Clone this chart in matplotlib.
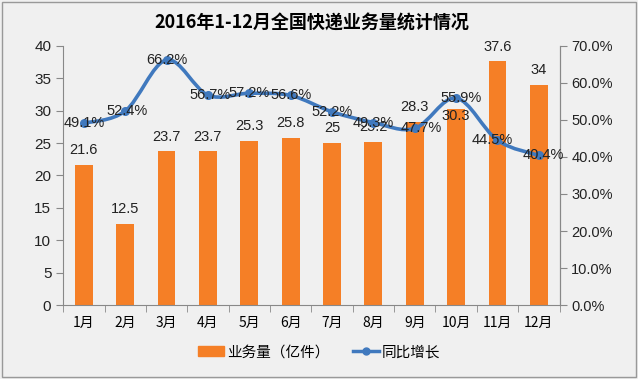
import matplotlib.pyplot as plt
import numpy as np
from matplotlib.path import Path
from matplotlib.patches import PathPatch, Patch
from matplotlib.lines import Line2D

plt.rcParams['font.family'] = ['Liberation Sans', 'Noto Sans CJK SC', 'DejaVu Sans']

months = ['1月', '2月', '3月', '4月', '5月', '6月', '7月', '8月', '9月', '10月', '11月', '12月']
volume = [21.6, 12.5, 23.7, 23.7, 25.3, 25.8, 25, 25.2, 28.3, 30.3, 37.6, 34]
growth = [49.1, 52.4, 66.2, 56.7, 57.2, 56.6, 52.2, 49.3, 47.7, 55.9, 44.5, 40.4]

bar_color = '#F57F26'
line_color = '#4079BE'
bg = '#F0F0F0'

fig = plt.figure(figsize=(6.38, 3.79), dpi=100, facecolor=bg)
ax = fig.add_axes([0.099, 0.195, 0.778, 0.684])
ax.set_facecolor(bg)
ax2 = ax.twinx()

x = np.arange(len(months))
ax.bar(x, volume, width=0.43, color=bar_color, zorder=2)
for i, v in enumerate(volume):
    if i == 9:
        # this label sits on the bar top in the original
        ax.text(i, v - 1.1, f'{v:g}', ha='center', va='center', fontsize=10.5, color='#222222', zorder=6)
    else:
        ax.text(i, v + 1.2, f'{v:g}', ha='center', va='bottom', fontsize=10.5, color='#222222')

# smooth line like excel (catmull-rom as bezier segments)
gx = x.astype(float)
gy = np.array(growth)
verts = [(gx[0], gy[0])]
codes = [Path.MOVETO]
for i in range(len(gx) - 1):
    p0 = (gx[max(i - 1, 0)], gy[max(i - 1, 0)])
    p1 = (gx[i], gy[i])
    p2 = (gx[i + 1], gy[i + 1])
    p3 = (gx[min(i + 2, len(gx) - 1)], gy[min(i + 2, len(gx) - 1)])
    t = 1 / 6
    c1 = (p1[0] + (p2[0] - p0[0]) * t, p1[1] + (p2[1] - p0[1]) * t)
    c2 = (p2[0] - (p3[0] - p1[0]) * t, p2[1] - (p3[1] - p1[1]) * t)
    verts += [c1, c2, p2]
    codes += [Path.CURVE4] * 3
ax2.add_patch(PathPatch(Path(verts, codes), facecolor='none', edgecolor=line_color, lw=2.6, zorder=3))
ax2.plot(gx, gy, 'o', color=line_color, ms=5.5, zorder=4)

# small horizontal nudges of the percent labels
nudge = [0, 0.05, 0, 0.05, 0, 0, 0, 0, 0.15, 0.12, -0.12, 0.12]
for xi, g, dx in zip(gx, gy, nudge):
    ax2.text(xi + dx, g, f'{g:.1f}%', ha='center', va='center', fontsize=10.5, color='#222222', zorder=5)

ax.set_xlim(-0.5, 11.5)
ax.set_ylim(0, 40)
ax.set_yticks(range(0, 41, 5))
ax2.set_ylim(0, 70)
ax2.set_yticks(range(0, 71, 10))
ax2.set_yticklabels([f'{v:.1f}%' for v in range(0, 71, 10)])

ax.set_xticks(x)
ax.set_xticklabels(months, fontsize=10, family=['Noto Sans CJK SC'])
ax.set_xticks(np.arange(-0.5, 12, 1), minor=True)
ax.tick_params(axis='x', which='major', length=0, pad=8)
ax.tick_params(axis='x', which='minor', length=5, color='#888888')
ax.tick_params(axis='y', labelsize=11, length=5, color='#888888', labelcolor='#222222')
ax2.tick_params(axis='y', labelsize=10.5, length=5, color='#888888', labelcolor='#222222')

for a in (ax, ax2):
    a.spines['top'].set_visible(False)
    for s in ('left', 'right', 'bottom'):
        a.spines[s].set_color('#888888')
ax2.spines['left'].set_visible(False)
ax2.spines['bottom'].set_visible(False)

fig.text(0.488, 0.94, '2016年1-12月全国快递业务量统计情况', ha='center', va='center',
         fontsize=13, fontweight='bold', family=['Noto Sans CJK SC'])

handles = [Patch(color=bar_color), Line2D([], [], color=line_color, lw=2.5, marker='o', ms=5)]
fig.legend(handles, ['业务量（亿件）', '同比增长'], loc='center', bbox_to_anchor=(0.5, 0.07),
           ncol=2, frameon=False, prop={'family': 'Noto Sans CJK SC', 'size': 10.5},
           handlelength=1.8, handleheight=0.7, columnspacing=1.6, handletextpad=0.2)

fig.add_artist(plt.Rectangle((0.003, 0.004), 0.994, 0.992, transform=fig.transFigure,
                             fill=False, edgecolor='#999999', lw=1))

fig.savefig('out.png', dpi=100, facecolor=bg)
